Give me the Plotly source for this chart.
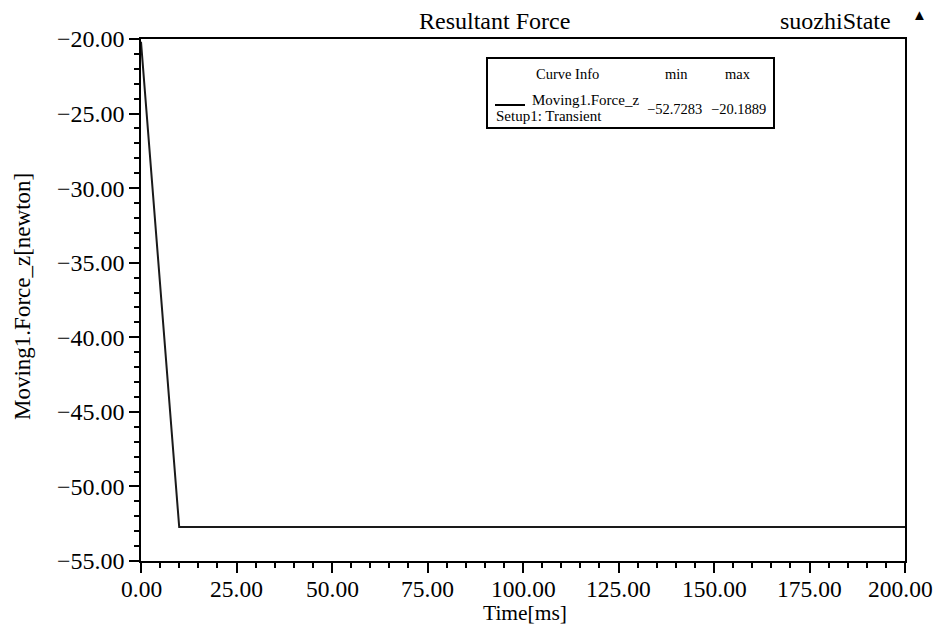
import plotly.graph_objects as go

time_ms = [0, 10, 20, 40, 60, 80, 100, 120, 140, 160, 180, 200]
force_z = [-20.1889, -52.7283, -52.7283, -52.7283, -52.7283, -52.7283,
           -52.7283, -52.7283, -52.7283, -52.7283, -52.7283, -52.7283]
x_tick_vals = [0, 25, 50, 75, 100, 125, 150, 175, 200]
x_tick_text = ["0.00", "25.00", "50.00", "75.00", "100.00", "125.00", "150.00", "175.00", "200.00"]
min_val = "−52.7283"
max_val = "−20.1889"

OFF = 8  # page body margin: the figure starts 8 px in from the window corner
W, H = 941 - 2 * OFF, 633 - 2 * OFF
L, R, T, B = 141, 905, 39, 561   # target plot-area edges in window pixels
FONT = "'Liberation Serif', 'Times New Roman', Times, serif"

def px(x):
    return (x - L) / (R - L)

def py(y):
    return (B - y) / (B - T)

fig = go.Figure()
fig.add_trace(go.Scatter(x=time_ms, y=force_z, mode="lines",
                         line=dict(color="#1a1a1a", width=2),
                         showlegend=False, hoverinfo="x+y"))

axis_common = dict(showgrid=False, zeroline=False, showline=True, linecolor="black",
                   linewidth=1.5, mirror=True, ticks="outside", ticklen=10,
                   tickwidth=1.5, tickcolor="black", automargin=False,
                   tickfont=dict(family=FONT, size=24, color="black"))

fig.update_xaxes(range=[0, 200], tickvals=x_tick_vals, showticklabels=False,
                 minor=dict(dtick=5, ticks="outside", ticklen=5, tickcolor="black", tickwidth=1.5),
                 **axis_common)
fig.update_yaxes(range=[-55, -20], dtick=5, tick0=-55, tickformat=".2f",
                 minor=dict(dtick=1, ticks="outside", ticklen=5, tickcolor="black", tickwidth=1.5),
                 **axis_common)

ann = []
# x tick labels placed on the x scale (last one nudged left to stay inside the page)
for i, (v, t) in enumerate(zip(x_tick_vals, x_tick_text)):
    ann.append(dict(x=v, xref="x", y=0, yref="paper", yshift=-13,
                    text=t, showarrow=False, xanchor="center", yanchor="top",
                    xshift=-5 if i == len(x_tick_vals) - 1 else 0,
                    font=dict(family=FONT, size=23.5, color="black")))

def txt(x, y, s, size=13, xanchor="center", angle=0):
    ann.append(dict(x=px(x), y=py(y), xref="paper", yref="paper", text=s, showarrow=False,
                    xanchor=xanchor, yanchor="middle", textangle=angle,
                    font=dict(family=FONT, size=size, color="black")))

txt(494, 21, "Resultant Force", size=24)
txt(835, 21, "suozhiState", size=24)
txt(919, 15, "▲", size=15)
txt(525, 613, "Time[ms]", size=21.5)
txt(22, 296, "Moving1.Force_z[newton]", size=23, angle=-90)

txt(567, 74, "Curve Info", size=14.5)
txt(676, 74, "min", size=14.5)
txt(738, 74, "max", size=14.5)
txt(530, 100, "Moving1.Force_z", size=15, xanchor="left")
txt(494, 116, "Setup1: Transient", size=15, xanchor="left")
txt(674, 109, min_val, size=14.5)
txt(738, 109, max_val, size=14.5)

shapes = [
    dict(type="rect", xref="paper", yref="paper", x0=px(487), x1=px(774), y0=py(128), y1=py(58),
         line=dict(color="black", width=2), fillcolor="white", layer="above"),
    dict(type="line", xref="paper", yref="paper", x0=px(495), x1=px(525), y0=py(105), y1=py(105),
         line=dict(color="black", width=2)),
]

fig.update_layout(width=W, height=H,
                  margin=dict(l=L - OFF, r=W - (R - OFF), t=T - OFF, b=H - (B - OFF), autoexpand=False),
                  plot_bgcolor="white", paper_bgcolor="white",
                  annotations=ann, shapes=shapes, showlegend=False)

fig.write_html("out.html")
